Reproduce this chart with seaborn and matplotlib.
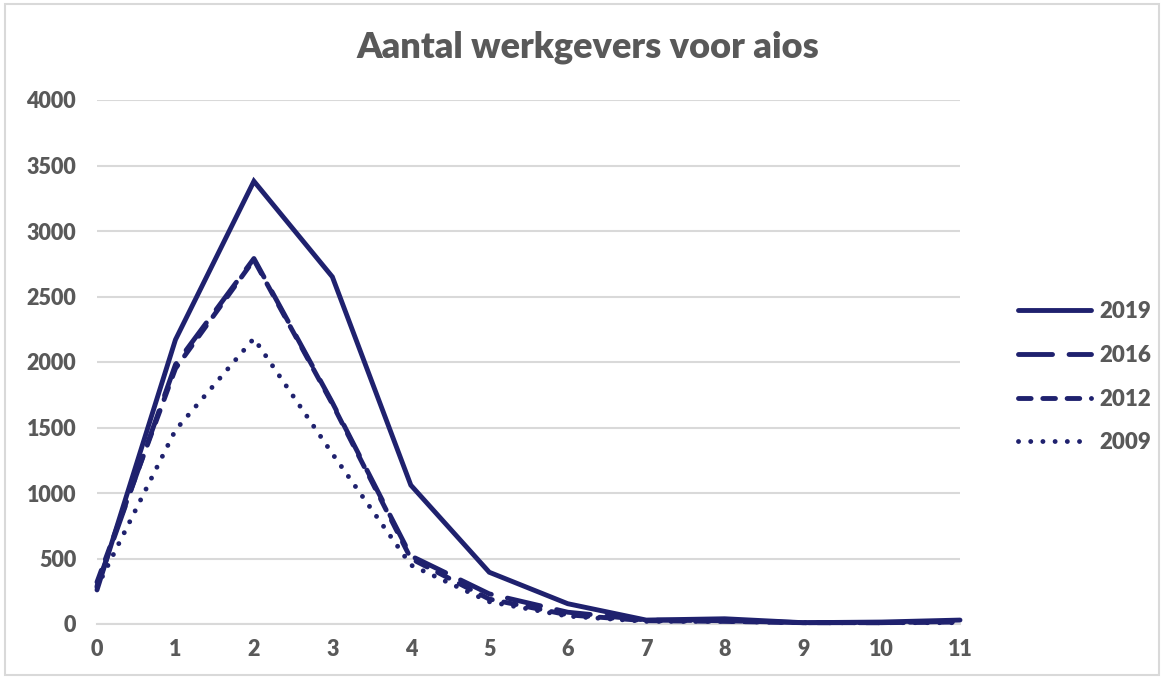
import matplotlib
matplotlib.use("Agg")
import matplotlib.pyplot as plt
import seaborn as sns
import pandas as pd
from matplotlib.patches import Rectangle

# Number of employers per trainee (aios), by survey year
werkgevers = list(range(0, 12))
jaar_2019 = [260, 2170, 3380, 2650, 1060, 395, 155, 30, 40, 10, 15, 30]
jaar_2016 = [290, 1980, 2790, 1690, 520, 230, 90, 30, 25, 10, 10, 20]
jaar_2012 = [320, 1950, 2780, 1680, 500, 190, 70, 25, 20, 10, 10, 15]
jaar_2009 = [280, 1480, 2180, 1300, 450, 170, 60, 20, 20, 10, 10, 10]
jaren = ["2019", "2016", "2012", "2009"]
y_ticks = [0, 500, 1000, 1500, 2000, 2500, 3000, 3500, 4000]

series = {"2019": jaar_2019, "2016": jaar_2016, "2012": jaar_2012, "2009": jaar_2009}
df = pd.DataFrame(
    [(x, jaar, v) for jaar in jaren for x, v in zip(werkgevers, series[jaar])],
    columns=["werkgevers", "jaar", "aantal"],
)

sns.set_theme(style="white")
plt.rcParams["font.family"] = ["Lato", "DejaVu Sans"]

navy = "#1f216e"
grey_text = "#595959"
grid_col = "#d9d9d9"
weight = 800

fig = plt.figure(figsize=(11.64, 6.78), dpi=100)
fig.patch.set_facecolor("white")
fig.patches.append(Rectangle((0.004, 0.004), 0.992, 0.99, transform=fig.transFigure,
                             fill=False, edgecolor="#d9d9d9", linewidth=1.5))

ax = fig.add_axes([97 / 1164, 54 / 678, (960 - 97) / 1164, (624 - 100) / 678])

lw = 3.5
dash_styles = {
    "2019": None,
    "2016": (7.0, 3.4),
    "2012": (2.6, 2.4),
    "2009": (0.01, 2.5),
}

for jaar in jaren:
    sub = df[df["jaar"] == jaar]
    sns.lineplot(data=sub, x="werkgevers", y="aantal", ax=ax, color=navy,
                 linewidth=lw, label=jaar, zorder=3)
    line = ax.get_lines()[-1]
    line.set_solid_capstyle("round")
    line.set_solid_joinstyle("miter")
    if dash_styles[jaar] is not None:
        line.set_dashes(dash_styles[jaar])
        line.set_dash_capstyle("round")
    line.set_clip_on(False)

ax.set_xlim(0, 11)
ax.set_ylim(0, 4000)
ax.set_xticks(werkgevers)
ax.set_yticks(y_ticks)
ax.set_xlabel("")
ax.set_ylabel("")

ax.yaxis.grid(True, color=grid_col, linewidth=1.5)
ax.xaxis.grid(False)
for side in ["top", "right", "left"]:
    ax.spines[side].set_visible(False)
ax.spines["bottom"].set_color(grid_col)
ax.spines["bottom"].set_linewidth(1.5)
ax.spines["bottom"].set_zorder(1)

ax.tick_params(axis="x", direction="inout", length=10, width=1.5, color=grid_col,
               pad=6, labelsize=15.5, labelcolor=grey_text)
ax.tick_params(axis="y", length=0, pad=15, labelsize=15.5, labelcolor=grey_text)
for lab in ax.get_xticklabels() + ax.get_yticklabels():
    lab.set_fontweight(weight)

fig.text(588 / 1164, 1 - 47 / 678, "Aantal werkgevers voor aios", ha="center",
         va="center", fontsize=26, fontweight=weight, color=grey_text)

leg = ax.legend(loc="center left", bbox_to_anchor=(1.057, 0.471), frameon=False,
                handlelength=3.3, handletextpad=0.35, labelspacing=1.02,
                fontsize=16, borderaxespad=0)
for txt in leg.get_texts():
    txt.set_color(grey_text)
    txt.set_fontweight(weight)
for h in leg.get_lines():
    h.set_linewidth(lw)

fig.savefig("out.png", dpi=100, facecolor="white")
